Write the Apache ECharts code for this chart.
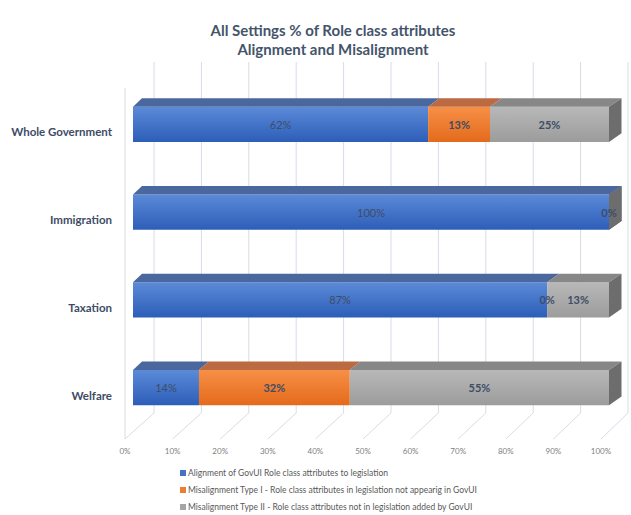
<!DOCTYPE html>
<html>
<head>
<meta charset="utf-8">
<script src="https://cdn.jsdelivr.net/npm/echarts@6/dist/echarts.min.js"></script>
<style>html,body{margin:0;padding:0;background:#fff}#c{width:631px;height:515px}</style>
</head>
<body>
<div id="c"></div>
<script>
// ---- data ----
const categories = ['Whole Government', 'Immigration', 'Taxation', 'Welfare'];
const alignment = [62, 100, 87, 14];
const typeI = [13, null, 0, 32];
const typeII = [25, 0, 13, 55];
const xTicks = [0, 10, 20, 30, 40, 50, 60, 70, 80, 90, 100];
const seriesNames = [
  'Alignment of GovUI Role class attributes to legislation',
  'Misalignment Type I - Role class attributes in legislation not appearig in GovUI',
  'Misalignment Type II - Role class attributes not in legislation added by GovUI'
];

// ---- styles ----
const FONT = 'Lato, "Liberation Sans", sans-serif';
const palette = [
  {legend: '#4472c4', front0: '#5b8ad8', front1: '#2d5eb8', top: '#4a679e', side: '#34508a', weight: 'normal'},
  {legend: '#ed7d31', front0: '#f69046', front1: '#e46a1c', top: '#bb6a42', side: '#a2522a', weight: 'bold'},
  {legend: '#a5a5a5', front0: '#b8b8b8', front1: '#9c9c9c', top: '#878787', side: '#6d6d6d', weight: 'bold'}
];

// normalise to 100% stacked (like Excel)
const allVals = [alignment, typeI, typeII];
const totals = categories.map((_, i) => allVals.reduce((s, a) => s + (a[i] || 0), 0));
function stackData(k) {
  return categories.map((_, i) => {
    const v = allVals[k][i];
    if (v === null || v === undefined) return null;
    let before = 0;
    for (let j = 0; j < k; j++) before += (allVals[j][i] || 0);
    const s = before / totals[i] * 100;
    const e = (before + v) / totals[i] * 100;
    return [s, e, i, v];
  }).filter(d => d !== null);
}

const DX = 8, DY = -7.5, DEPTH_Y = 8.7;
function depthX(x, x0, w) { return 9 + 3.5 * (x - x0) / w; }

function makeBarSeries(k) {
  const c = palette[k];
  return {
    name: seriesNames[k],
    type: 'custom',
    itemStyle: {color: c.legend},
    data: stackData(k),
    encode: {x: [0, 1], y: 2},
    z: 5,
    renderItem: function (params, api) {
      const cs = params.coordSys;
      const s = api.value(0), e = api.value(1), cat = api.value(2), raw = api.value(3);
      const p0 = api.coord([s, cat]), p1 = api.coord([e, cat]);
      const band = api.size([0, 1])[1];
      const h = band * 0.4;
      const cy = p0[1] + DY;
      const x0 = p0[0] + DX, x1 = p1[0] + DX;
      const yt = cy - h / 2, yb = cy + h / 2;
      const gx0 = cs.x + DX, gw = cs.width;
      const d0 = depthX(x0, gx0, gw), d1 = depthX(x1, gx0, gw);
      const children = [];
      if (x1 - x0 > 0.1) {
        children.push({
          type: 'rect',
          shape: {x: x0, y: yt, width: x1 - x0, height: h},
          style: {fill: new echarts.graphic.LinearGradient(0, 0, 0, 1, [
            {offset: 0, color: c.front0}, {offset: 1, color: c.front1}])}
        });
        children.push({
          type: 'polygon',
          shape: {points: [[x0, yt], [x1, yt], [x1 + d1, yt - DEPTH_Y], [x0 + d0, yt - DEPTH_Y]]},
          style: {fill: c.top}
        });
      }
      if (e >= 99.99) {
        children.push({
          type: 'polygon',
          shape: {points: [[x1, yt], [x1 + d1, yt - DEPTH_Y], [x1 + d1, yb - DEPTH_Y], [x1, yb]]},
          style: {fill: c.side}
        });
      }
      children.push({
        type: 'text',
        z2: 10,
        style: {
          text: raw + '%', x: (x0 + x1) / 2, y: cy,
          align: 'center', verticalAlign: 'middle',
          fill: '#3e4c66', fontSize: 11, fontWeight: c.weight, fontFamily: FONT
        }
      });
      return {type: 'group', children: children};
    }
  };
}

const wallSeries = {
  name: 'wall',
  type: 'custom',
  silent: true,
  z: 1,
  data: xTicks.map(t => [t, 0]),
  encode: {x: 0, y: 1},
  renderItem: function (params, api) {
    const cs = params.coordSys;
    const p = api.coord([api.value(0), 0]);
    const front = cs.y + cs.height;
    const back = front - 26;
    const top = cs.y - 26;
    const xb = p[0] + 29 - 2 * (p[0] - cs.x) / cs.width;
    const st = {stroke: '#d8dce5', lineWidth: 1, fill: null};
    const children = [
      {type: 'polyline', shape: {points: [[xb, top], [xb, back], [p[0], front]]}, style: st}
    ];
    if (api.value(0) === 0) {
      children.push({type: 'line', shape: {x1: p[0], y1: cs.y, x2: p[0], y2: front}, style: st});
    }
    return {type: 'group', children: children};
  }
};

const chart = echarts.init(document.getElementById('c'), null, {renderer: 'svg'});
chart.setOption({
  backgroundColor: '#ffffff',
  animation: false,
  textStyle: {fontFamily: FONT},
  title: {
    text: 'All Settings % of Role class attributes\nAlignment and Misalignment',
    left: 328, top: 15, textAlign: 'center',
    textStyle: {fontSize: 15, fontWeight: 'bold', color: '#44546a', lineHeight: 19, fontFamily: FONT}
  },
  legend: {
    data: seriesNames,
    orient: 'vertical',
    left: 180, top: 468, padding: 0,
    icon: 'rect', itemWidth: 6, itemHeight: 6, itemGap: 7,
    textStyle: {fontSize: 8.5, color: '#595959', lineHeight: 10, fontFamily: FONT, padding: [0, 0, 0, -3]}
  },
  grid: {left: 125, right: 30, top: 88, bottom: 76, containLabel: false},
  xAxis: {
    type: 'value', min: 0, max: 100, interval: 10,
    axisLine: {show: false}, axisTick: {show: false}, splitLine: {show: false},
    axisLabel: {formatter: '{value}%', fontSize: 8, color: '#808080', margin: 8, fontFamily: FONT}
  },
  yAxis: {
    type: 'category', data: categories, inverse: true,
    axisLine: {show: false}, axisTick: {show: false}, splitLine: {show: false},
    axisLabel: {fontSize: 11.5, fontWeight: 'bold', color: '#3e4c66', margin: 13, fontFamily: FONT}
  },
  series: [wallSeries, makeBarSeries(0), makeBarSeries(1), makeBarSeries(2)]
});
</script>
</body>
</html>
